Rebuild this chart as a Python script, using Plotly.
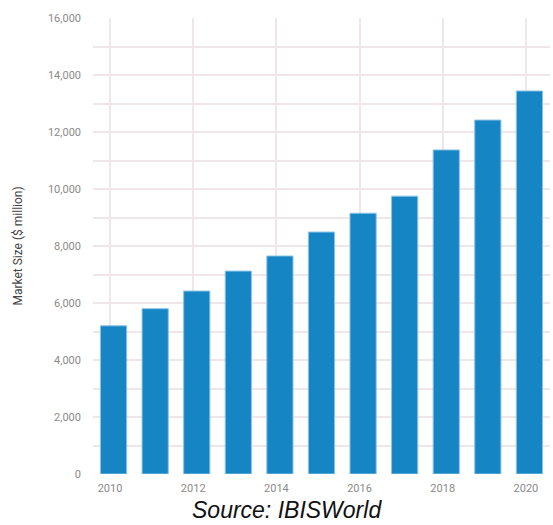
import plotly.graph_objects as go

years = [2010, 2011, 2012, 2013, 2014, 2015, 2016, 2017, 2018, 2019, 2020]
market_size = [5200, 5800, 6420, 7120, 7650, 8490, 9150, 9750, 11370, 12420, 13440]
x_ticks = [2010, 2012, 2014, 2016, 2018, 2020]
y_ticks = [0, 2000, 4000, 6000, 8000, 10000, 12000, 14000, 16000]
y_tick_labels = ["0", "2,000", "4,000", "6,000", "8,000", "10,000", "12,000", "14,000", "16,000"]

grid = "#EEE6E9"

fig = go.Figure(go.Bar(
    x=years, y=market_size,
    width=0.63, offset=-0.23,
    marker=dict(color="#1585C3", line=dict(color="#8CC4E6", width=1)),
))

fig.update_layout(
    width=553, height=525,
    margin=dict(l=93, r=3, t=18, b=51),
    paper_bgcolor="white", plot_bgcolor="white",
    showlegend=False,
    font=dict(family="Roboto, Arial, sans-serif"),
    xaxis=dict(
        range=[2009.59, 2020.58],
        tickvals=x_ticks, ticktext=[str(t) for t in x_ticks],
        showgrid=True, gridcolor=grid, gridwidth=2,
        zeroline=False, showline=False,
        tickfont=dict(size=11, color="#8A8A8A"),
        ticks="", ticklen=0, ticklabelstandoff=6,
    ),
    yaxis=dict(
        range=[0, 16000],
        tickvals=y_ticks, ticktext=y_tick_labels,
        showgrid=True, gridcolor=grid, gridwidth=2,
        minor=dict(dtick=1000, tick0=0, showgrid=True, gridcolor=grid, gridwidth=2),
        zeroline=False, showline=False,
        tickfont=dict(size=11, color="#8A8A8A"),
        ticks="", ticklen=0, ticklabelstandoff=11,
        title=dict(text="Market Size ($ million)", font=dict(size=12, color="#444444"), standoff=22),
    ),
)

fig.add_annotation(
    text="<i>Source: IBISWorld</i>", xref="paper", yref="paper",
    x=0.425, y=-0.046, xanchor="center", yanchor="top", showarrow=False,
    font=dict(family="Liberation Sans, Arial, sans-serif", size=23, color="#111111"),
)

fig.write_html("out.html")
